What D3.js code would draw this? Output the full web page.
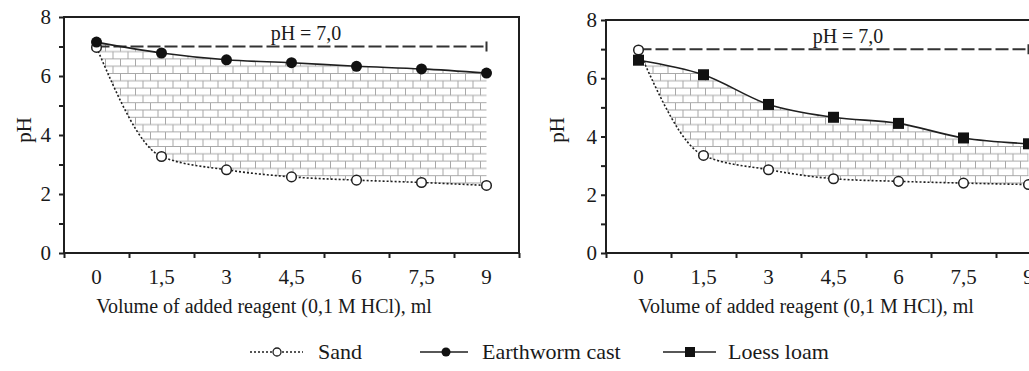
<!DOCTYPE html>
<html><head><meta charset="utf-8">
<script src="https://cdn.jsdelivr.net/npm/d3@7"></script>
<style>
body{margin:0;background:#fff}
svg, svg text{font-family:"Liberation Serif","Tinos","DejaVu Serif",serif !important;fill:#1a1a1a}
</style>
</head><body>
<svg id="c" width="1029" height="371" font-family="Liberation Serif, serif"></svg>
<script>
// ---- data ----
const xLabels = ["0", "1,5", "3", "4,5", "6", "7,5", "9"];
const yTicks = [0, 1, 2, 3, 4, 5, 6, 7, 8];
const sandLeft = [6.97, 3.27, 2.82, 2.58, 2.47, 2.39, 2.29];
const earthwormCast = [7.15, 6.78, 6.55, 6.45, 6.33, 6.24, 6.1];
const sandRight = [6.97, 3.35, 2.86, 2.55, 2.46, 2.4, 2.35];
const loessLoam = [6.62, 6.12, 5.1, 4.66, 4.45, 3.95, 3.75];
const neutralPH = 7.0;
const neutralLabel = "pH = 7,0";
const xTitle = "Volume of added reagent (0,1 M HCl), ml";
const yTitle = "pH";
const legendNames = ["Sand", "Earthworm cast", "Loess loam"];

const ink = "#1f1f1f";
const FONT = "Liberation Serif, Tinos, serif";
const svg = d3.select("#c");
const defs = svg.append("defs");
const pat = defs.append("pattern").attr("id", "brick")
  .attr("patternUnits", "userSpaceOnUse").attr("width", 15).attr("height", 14.6);
pat.append("rect").attr("width", 15).attr("height", 14.6).attr("fill", "#fff");
pat.append("path")
  .attr("d", "M0,0.5H15M0,7.8H15M0.5,0.5V7.8M8,7.8V14.6")
  .attr("stroke", "#a8a8a8").attr("stroke-width", 1).attr("fill", "none");

function marker(g, type, px, py) {
  if (type === "open") {
    g.append("circle").attr("cx", px).attr("cy", py).attr("r", 4.8)
      .attr("fill", "#fff").attr("stroke", ink).attr("stroke-width", 1.5);
  } else if (type === "dot") {
    g.append("circle").attr("cx", px).attr("cy", py).attr("r", 5.5).attr("fill", "#111");
  } else {
    g.append("rect").attr("x", px - 5.5).attr("y", py - 5.5).attr("width", 11).attr("height", 11).attr("fill", "#111");
  }
}

function panel(cfg) {
  const W = 7 * 65;
  const x = d3.scaleBand().domain(xLabels).range([cfg.x0, cfg.x0 + W]);
  const xb = d3.scaleLinear().domain([0, 7]).range([cfg.x0, cfg.x0 + W]);
  const y = d3.scaleLinear().domain([0, 8]).range([253, cfg.yTop]);
  const cx = i => x(xLabels[i]) + x.bandwidth() / 2;
  const g = svg.append("g");

  // hatched area between the two series
  const area = d3.area().x((d, i) => cx(i))
    .y0((d, i) => y(cfg.lower[i])).y1((d, i) => y(cfg.upper[i]))
    .curve(d3.curveMonotoneX);
  g.append("path").datum(xLabels).attr("d", area).attr("fill", "url(#brick)");

  // reference line pH = 7
  g.append("line").attr("x1", cx(0)).attr("x2", cx(6))
    .attr("y1", y(neutralPH)).attr("y2", y(neutralPH))
    .attr("stroke", "#333").attr("stroke-width", 2).attr("stroke-dasharray", "13,4");
  g.append("line").attr("x1", cx(6)).attr("x2", cx(6))
    .attr("y1", y(neutralPH) - 5).attr("y2", y(neutralPH) + 5)
    .attr("stroke", "#333").attr("stroke-width", 2);
  g.append("text").attr("x", cfg.x0 + 242).attr("y", cfg.yTop + 23)
    .attr("font-family", FONT).attr("text-anchor", "middle").attr("font-size", 20).text(neutralLabel);

  // lines
  const line = d3.line().x((d, i) => cx(i)).y(d => y(d)).curve(d3.curveMonotoneX);
  g.append("path").datum(cfg.lower).attr("d", line).attr("fill", "none")
    .attr("stroke", ink).attr("stroke-width", 1.6).attr("stroke-dasharray", "2,2");
  g.append("path").datum(cfg.upper).attr("d", line).attr("fill", "none")
    .attr("stroke", ink).attr("stroke-width", 1.6);
  cfg.lower.forEach((v, i) => marker(g, "open", cx(i), y(v)));
  cfg.upper.forEach((v, i) => marker(g, cfg.upperMarker, cx(i), y(v)));

  // axes
  const ax = g.append("g").attr("transform", "translate(0,253)")
    .call(d3.axisBottom(xb).ticks(7).tickSize(5).tickFormat(""));
  ax.select(".domain").remove();
  ax.selectAll("line").attr("stroke", ink).attr("stroke-width", 2);

  const axl = g.append("g").attr("transform", "translate(0,253)")
    .call(d3.axisBottom(x).tickSize(0).tickPadding(0));
  axl.attr("font-family", FONT);
  axl.select(".domain").remove();
  axl.selectAll("text").attr("font-size", 21).attr("font-family", FONT)
    .attr("dy", null).attr("y", 31).attr("fill", ink);

  const ay = g.append("g").attr("transform", `translate(${cfg.x0},0)`)
    .call(d3.axisLeft(y).tickValues(yTicks).tickSize(5).tickPadding(cfg.yPad)
      .tickFormat(d => d % 2 === 0 ? d : ""));
  ay.attr("font-family", FONT);
  ay.select(".domain").remove();
  ay.selectAll("line").attr("stroke", ink).attr("stroke-width", 2);
  ay.selectAll("text").attr("font-size", 21).attr("font-family", FONT).attr("fill", ink);

  // frame
  g.append("path")
    .attr("d", `M${cfg.x0},253H${cfg.x0 + W}V${cfg.yTop}H${cfg.x0}Z`)
    .attr("fill", "none").attr("stroke", ink).attr("stroke-width", 2);

  // titles
  g.append("text").attr("x", cfg.x0 + 200).attr("y", 313).attr("text-anchor", "middle")
    .attr("font-family", FONT).attr("font-size", 20).text(xTitle);
  g.append("text").attr("transform", `translate(${cfg.yTitleX},130) rotate(-90)`)
    .attr("font-family", FONT).attr("text-anchor", "middle").attr("dy", "0.35em").attr("font-size", 21).text(yTitle);
}

panel({ x0: 64, yTop: 17, lower: sandLeft, upper: earthwormCast, upperMarker: "dot", yPad: 8, yTitleX: 24 });
panel({ x0: 606, yTop: 20, lower: sandRight, upper: loessLoam, upperMarker: "square", yPad: 4, yTitleX: 557 });

// legend
const lg = svg.append("g");
const legendItems = [
  { name: legendNames[0], x1: 250, x2: 303, m: 277, t: 318, type: "open", dash: "2,2" },
  { name: legendNames[1], x1: 420, x2: 468, m: 446, t: 482, type: "dot", dash: null },
  { name: legendNames[2], x1: 663, x2: 716, m: 690, t: 728, type: "square", dash: null }
];
legendItems.forEach(it => {
  lg.append("line").attr("x1", it.x1).attr("x2", it.x2).attr("y1", 352).attr("y2", 352)
    .attr("stroke", ink).attr("stroke-width", 1.6).attr("stroke-dasharray", it.dash);
  if (it.type === "open") {
    lg.append("circle").attr("cx", it.m).attr("cy", 352).attr("r", 4).attr("fill", "#fff").attr("stroke", ink).attr("stroke-width", 1.3);
  } else if (it.type === "dot") {
    lg.append("circle").attr("cx", it.m).attr("cy", 352).attr("r", 4.5).attr("fill", "#111");
  } else {
    lg.append("rect").attr("x", it.m - 5).attr("y", 347).attr("width", 10).attr("height", 10).attr("fill", "#111");
  }
  lg.append("text").attr("x", it.t).attr("y", 359).attr("font-family", FONT).attr("font-size", 22).text(it.name);
});
</script>
</body></html>
